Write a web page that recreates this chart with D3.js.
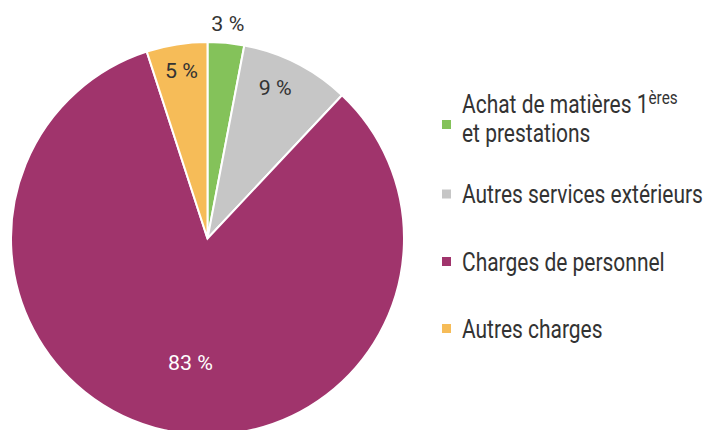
<!DOCTYPE html>
<html>
<head>
<meta charset="utf-8">
<script src="https://cdn.jsdelivr.net/npm/d3@7"></script>
<style>
  body { margin: 0; background: #fff; }
  text { font-family: Roboto, "Liberation Sans", Arial, sans-serif; font-weight: 400; }
</style>
</head>
<body>
<div id="chart"></div>
<script>
// données
const categories = ["Achat de matières 1ères et prestations", "Autres services extérieurs", "Charges de personnel", "Autres charges"]
const valeurs = [3, 9, 83, 5]
const etiquettes = ["3 %", "9 %", "83 %", "5 %"]
const couleurs = ["#84c25a", "#c6c6c6", "#a0346c", "#f6bc58"]

const width = 706, height = 430
const cx = 207.5, cy = 238.5, rayon = 196.5

const svg = d3.select('#chart')
    .append('svg')
    .attr("width", width)
    .attr("height", height)

const g = svg.append("g")
    .attr("transform", "translate(" + cx + "," + cy + ")")

const pie = d3.pie().sort(null).value(d => d)
const arcs = pie(valeurs)

const arc = d3.arc().innerRadius(0).outerRadius(rayon)

g.selectAll("path")
    .data(arcs)
    .join("path")
    .attr("d", arc)
    .attr("fill", (d, i) => couleurs[i])
    .attr("stroke", "#fff")
    .attr("stroke-width", 2)

// police étroite : on compresse horizontalement
const mesure = svg.append("text").attr("font-size", 26).text("Autres services extérieurs")
const sxLeg = 241 / mesure.node().getComputedTextLength()
mesure.attr("font-size", 21).text("83 %")
const sxLbl = 45 / mesure.node().getComputedTextLength()
mesure.remove()

// position des étiquettes (rayon, fraction dans la part)
const rayonEtiq = [216, 166, 125, 170]
const fracEtiq = [0.5, 0.41, 0.484, 0.51]

g.selectAll("text.lbl")
    .data(arcs)
    .join("text")
    .attr("class", "lbl")
    .attr("transform", (d, i) => {
        const a = d.startAngle + fracEtiq[i] * (d.endAngle - d.startAngle)
        return "translate(" + (Math.sin(a) * rayonEtiq[i]) + "," + (-Math.cos(a) * rayonEtiq[i]) + ") scale(" + sxLbl + ",1)"
    })
    .attr("text-anchor", "middle")
    .attr("dy", "0.36em")
    .attr("font-size", 21)
    .attr("fill", (d, i) => i == 2 ? "#fff" : "#333")
    .text((d, i) => etiquettes[i])

// légende
const carreY = [124.5, 194, 261.5, 328.5]
const ligneY = [113, 203, 270.5, 337.5]
const leg = svg.append("g").attr("transform", "translate(442,0)")

leg.selectAll("rect")
    .data(categories)
    .join("rect")
    .attr("x", 0)
    .attr("y", (d, i) => carreY[i] - 4.5)
    .attr("width", 9)
    .attr("height", 9)
    .attr("fill", (d, i) => couleurs[i])

const t0 = leg.append("text")
    .attr("transform", "translate(20," + ligneY[0] + ") scale(" + sxLeg + ",1)")
    .attr("font-size", 26)
    .attr("fill", "#333")
t0.append("tspan").text("Achat de matières 1")
t0.append("tspan").attr("font-size", 19).attr("dy", -9).text("ères")
leg.append("text")
    .attr("transform", "translate(20," + (ligneY[0] + 29) + ") scale(" + sxLeg + ",1)")
    .attr("font-size", 26)
    .attr("fill", "#333")
    .text("et prestations")

leg.selectAll("text.item")
    .data(categories.slice(1))
    .join("text")
    .attr("class", "item")
    .attr("transform", (d, i) => "translate(20," + ligneY[i + 1] + ") scale(" + sxLeg + ",1)")
    .attr("font-size", 26)
    .attr("fill", "#333")
    .text(d => d)
</script>
</body>
</html>
